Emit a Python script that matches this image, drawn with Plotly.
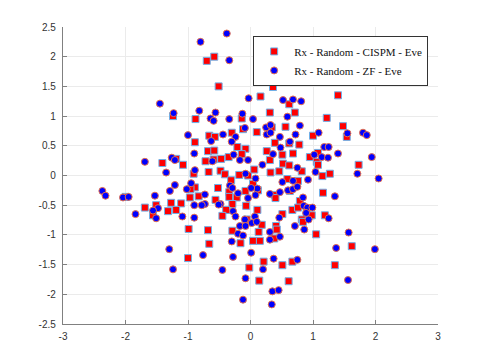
import plotly.graph_objects as go

cispm_x = [-0.70, -0.58, -0.51, -1.24, -0.88, -0.14, 0.36, 1.40, 0.16, 0.62, 0.31, 0.71, 1.22,
           -0.12, -0.66, -0.57, -0.30, -0.89, -0.68, -0.58, -0.21, -0.08, -0.14, -0.35, -1.41,
           -1.19, -1.08, -0.72, -0.59, -0.47, -0.91, -0.67, -0.48, -0.41, -0.18, -0.31, -0.04,
           -0.89, -0.96, -0.52, -0.34, -0.08, -2.00, -0.97, -0.83, -0.56, -0.34, -0.22, -1.11,
           -1.27, -0.29, -0.07, -1.69, -1.51, -1.32, -1.19, -0.39, -1.56, -0.45, -0.99, -0.68,
           -0.29, -0.06, -0.66, -0.16, -1.00, -0.02, 0.10, 0.34, 0.56, 1.00, 1.48, 1.54, 0.39,
           0.62, 0.78, 0.26, 0.51, 0.68, 1.08, 0.95, 1.06, 0.31, 0.06, 0.52, 0.62, 0.46, 0.32,
           0.59, 0.76, 0.82, 1.08, 1.15, 1.27, 1.73, 0.04, 0.12, 0.39, 0.40, 0.63, 1.16, 0.79,
           0.67, 0.76, 0.11, 0.51, 0.90, 1.19, 0.82, 0.18, 0.84, 0.98, 0.41, 0.42, 0.13, 0.38,
           0.04, 0.15, 1.05, 1.62, 0.21, 0.51, 0.67, 1.35, 0.14, 0.61]
cispm_y = [1.93, 2.00, 1.50, 1.00, 0.95, 0.96, 1.49, 1.35, 1.33, 1.20, 1.06, 1.06, 0.97,
           0.78, 0.67, 0.65, 0.72, 0.56, 0.41, 0.42, 0.48, 0.45, 0.36, 0.31, 0.21,
           0.28, 0.18, 0.24, 0.27, 0.28, 0.03, 0.06, 0.08, 0.02, 0.01, -0.08, 0.00,
           -0.20, -0.23, -0.21, -0.28, -0.26, -0.36, -0.37, -0.35, -0.41, -0.36, -0.37, -0.47,
           -0.46, -0.48, -0.51, -0.54, -0.50, -0.60, -0.58, -0.58, -0.67, -0.68, -0.90, -0.92,
           -0.93, -0.74, -1.15, -1.14, -1.39, -1.55, 0.73, 0.81, 0.82, 0.67, 0.83, 0.65, 0.55,
           0.54, 0.52, 0.41, 0.35, 0.37, 0.38, 0.31, 0.23, 0.26, 0.10, 0.20, 0.17, 0.07, 0.05,
           -0.06, -0.09, 0.07, 0.18, -0.01, 0.03, 0.18, -0.14, -0.25, -0.33, -0.38, -0.26, -0.29, -0.43,
           -0.58, -0.54, -0.58, -0.65, -0.63, -0.67, -0.74, -0.83, -0.78, -0.67, -0.85, -0.91, -0.95, -1.06,
           -1.10, -1.10, -0.99, -1.19, -1.45, -1.51, -1.45, -1.51, -1.77, -1.78]

zf_x = [-0.38, -0.80, -0.34, -0.03, -1.45, -1.23, -0.82, -0.56, -0.13, -0.64, -0.34, 0.20, 0.66,
        1.63, 0.52, 0.68, 0.81, 0.59, 0.04, -0.59, -0.09, -1.00, -0.44, -0.24, -0.30, -0.63,
        -0.90, -0.27, -1.69, -1.26, -1.21, -0.61, -0.17, -0.04, -1.35, -0.89, -0.08, -0.33,
        -1.21, -0.95, -1.02, -0.29, -0.20, -2.37, -2.32, -2.04, -1.95, -1.53, -1.29, -0.73,
        -0.04, -0.73, -0.78, -0.90, -0.48, -0.51, -1.48, -1.56, -0.28, -1.84, -1.51, -1.09,
        -0.90, -0.24, -0.09, -0.17, -0.08, -0.20, -0.12, -1.30, -0.30, -0.76, -0.28, 0.01,
        -1.24, -0.45, -0.08, -0.12, 0.25, 0.32, 0.26, 0.32, 0.47, 0.79, 0.72, 1.09, 1.55, 1.80,
        1.86, 0.48, 0.63, 0.36, 1.18, 1.25, 1.02, 1.14, 1.24, 1.40, 0.19, 0.75, 0.51, 0.92,
        1.04, 1.94, 1.71, 2.05, 0.08, 0.11, 0.01, 0.08, 0.31, 0.47, 0.60, 0.68, 0.68, 0.75,
        1.35, 0.84, 0.85, 0.91, 0.99, 0.07, 0.46, 1.25, 0.93, 0.02, 0.10, 0.89, 0.71, 0.86,
        0.31, 0.47, 0.31, 1.57, 1.37, 1.99, 0.37, 0.75, 0.20, 1.56, 0.35, 0.45, 0.34]
zf_y = [2.39, 2.25, 1.94, 1.30, 1.21, 1.05, 1.09, 1.06, 1.04, 0.96, 0.95, 1.60, 1.67,
        1.58, 1.27, 1.28, 1.25, 0.99, 0.95, 0.92, 0.80, 0.68, 0.69, 0.65, 0.57, 0.58,
        0.37, 0.35, 0.23, 0.30, 0.26, 0.24, 0.26, 0.26, 0.05, 0.09, 0.03, -0.17,
        -0.16, -0.13, -0.23, -0.21, -0.30, -0.26, -0.34, -0.37, -0.36, -0.34, -0.26, -0.32,
        -0.38, -0.48, -0.50, -0.50, -0.48, -0.49, -0.55, -0.59, -0.60, -0.65, -0.72, -0.69,
        -0.71, -0.69, -0.74, -0.85, -0.85, -0.98, -1.01, -1.24, -1.11, -1.34, -1.37, -1.30,
        -1.58, -1.59, -1.73, -2.09, 0.81, 0.85, 0.69, 0.72, 0.65, 0.84, 0.69, 0.72, 0.71, 0.72,
        0.68, 0.47, 0.57, 0.36, 0.48, 0.48, 0.35, 0.31, 0.30, 0.37, 0.18, 0.13, -0.11, -0.07,
        0.06, 0.31, 0.03, -0.05, -0.05, -0.22, -0.21, -0.33, -0.31, -0.28, -0.25, -0.09, -0.23, -0.19,
        -0.35, -0.37, -0.51, -0.54, -0.54, -0.69, -0.71, -0.72, -0.74, -0.80, -0.78, -0.63, -0.85, -0.91,
        -0.95, -1.03, -1.08, -0.96, -1.22, -1.24, -1.40, -1.42, -1.58, -1.76, -1.95, -1.93, -2.17]

x_ticks = [-3, -2, -1, 0, 1, 2, 3]
y_ticks = [-2.5, -2, -1.5, -1, -0.5, 0, 0.5, 1, 1.5, 2, 2.5]

fig = go.Figure()
fig.add_trace(go.Scatter(
    x=cispm_x, y=cispm_y, mode="markers", name="Rx - Random - CISPM - Eve",
    marker=dict(symbol="square", size=7, color="#FF0000",
                line=dict(color="#6FB0E8", width=1))))
fig.add_trace(go.Scatter(
    x=zf_x, y=zf_y, mode="markers", name="Rx - Random - ZF - Eve",
    marker=dict(symbol="circle", size=7, color="#0000FF",
                line=dict(color="#E8704A", width=1))))

axis_common = dict(showgrid=True, gridcolor="#EBEBEB", gridwidth=1, zeroline=False,
                   showline=True, linecolor="#808080", linewidth=1.3, mirror=False,
                   ticks="inside", ticklen=4, tickcolor="#808080",
                   tickfont=dict(family="Liberation Sans, Arial, sans-serif", size=10, color="#333333"))

fig.update_layout(
    width=477, height=355,
    margin=dict(l=55, r=47, t=19, b=39),
    paper_bgcolor="white", plot_bgcolor="white",
    showlegend=True,
    legend=dict(x=0.507, y=0.97, xanchor="left", yanchor="top",
                bgcolor="white", bordercolor="#333333", borderwidth=1,
                font=dict(family="Liberation Serif, DejaVu Serif, serif", size=11, color="#111111"),
                tracegroupgap=0),
    xaxis=dict(range=[-3, 3], tickvals=x_ticks, ticktext=[str(v) for v in x_ticks],
               ticklabelstandoff=3, **axis_common),
    yaxis=dict(range=[-2.5, 2.5], tickvals=y_ticks, ticktext=[("%g" % v) for v in y_ticks],
               ticklabelstandoff=4, **axis_common),
)

fig.write_html("out.html")
